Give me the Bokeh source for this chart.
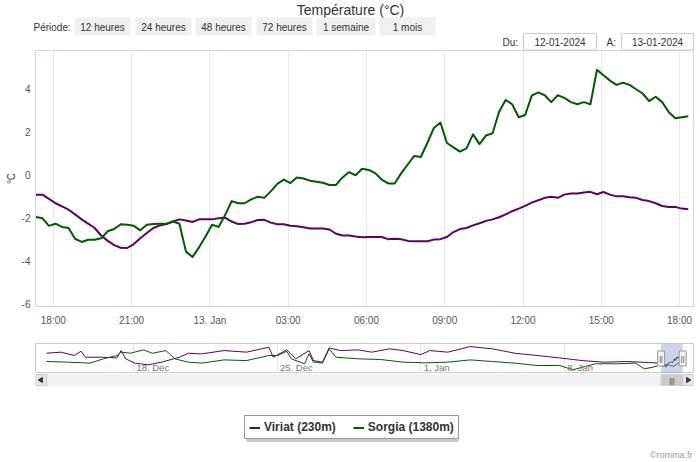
import numpy as np
import pandas as pd
from bokeh.plotting import figure
from bokeh.layouts import column
from bokeh.models import (Range1d, FixedTicker, CustomJSTickFormatter, Legend,
                          LegendItem, ColumnDataSource)
from bokeh.core.properties import value
from bokeh.embed import file_html
from bokeh.resources import INLINE

# ---------------- texts ----------------
TITLE = "Température (°C)"
PERIOD_LABEL = "Période:"
PERIOD_BUTTONS = ["12 heures", "24 heures", "48 heures", "72 heures", "1 semaine", "1 mois"]
DATE_FROM_LABEL = "Du:"
DATE_TO_LABEL = "A:"
DATE_FROM = "12-01-2024"
DATE_TO = "13-01-2024"
SERIES_NAMES = ["Viriat (230m)", "Sorgia (1380m)"]
Y_LABEL = "°C"
CREDITS = "©romma.fr"

# ---------------- main data (15 min steps) ----------------
main_start = "2024-01-12 17:20"
main_step = "15min"
viriat = [
    -0.90, -0.90, -1.10, -1.30, -1.45, -1.60, -1.82, -2.05, -2.25, -2.45,
    -2.80, -3.05, -3.25, -3.37, -3.38, -3.20, -2.93, -2.68, -2.45, -2.33,
    -2.27, -2.15, -2.05, -2.10, -2.17, -2.05, -2.05, -2.05, -2.00, -1.97,
    -2.15, -2.27, -2.25, -2.18, -2.08, -2.07, -2.20, -2.28, -2.28, -2.35,
    -2.37, -2.42, -2.47, -2.47, -2.47, -2.52, -2.72, -2.80, -2.80, -2.85,
    -2.88, -2.87, -2.87, -2.87, -2.97, -2.95, -2.97, -3.05, -3.07, -3.07,
    -3.07, -2.99, -2.97, -2.87, -2.64, -2.50, -2.45, -2.33, -2.23, -2.12,
    -2.05, -1.95, -1.82, -1.67, -1.55, -1.42, -1.27, -1.16, -1.05, -1.00,
    -1.05, -0.90, -0.85, -0.85, -0.80, -0.77, -0.88, -0.78, -0.90, -0.98,
    -0.98, -1.02, -1.05, -1.15, -1.20, -1.30, -1.43, -1.47, -1.47, -1.55,
    -1.58,
]
sorgia = [
    -1.94, -2.00, -2.35, -2.25, -2.40, -2.45, -2.95, -3.10, -3.00, -3.00,
    -2.93, -2.60, -2.50, -2.28, -2.30, -2.35, -2.56, -2.30, -2.27, -2.25,
    -2.25, -2.15, -2.25, -3.55, -3.80, -3.35, -2.85, -2.30, -2.40, -1.85,
    -1.20, -1.30, -1.30, -1.12, -1.00, -1.05, -0.75, -0.40, -0.20, -0.36,
    -0.10, -0.15, -0.25, -0.30, -0.35, -0.45, -0.45, -0.10, 0.15, 0.00,
    0.30, 0.25, 0.10, -0.20, -0.38, -0.38, 0.10, 0.50, 0.90, 0.85,
    1.50, 2.20, 2.45, 1.50, 1.30, 1.10, 1.25, 1.90, 1.45, 1.85,
    1.95, 2.95, 3.50, 3.30, 2.70, 2.80, 3.70, 3.85, 3.72, 3.40,
    3.72, 3.60, 3.40, 3.30, 3.40, 3.30, 4.90, 4.65, 4.40, 4.20,
    4.30, 4.20, 4.00, 3.80, 3.45, 3.65, 3.40, 2.94, 2.65, 2.70,
    2.74,
]
times = pd.date_range(main_start, periods=len(viriat), freq=main_step)

view_start = pd.Timestamp("2024-01-12 17:19")
view_end = pd.Timestamp("2024-01-13 18:32")
x_ticks = pd.date_range("2024-01-12 18:00", "2024-01-13 18:00", freq="3h")
y_ticks = [-6, -4, -2, 0, 2, 4]
y_min, y_max = -6.1, 5.8

# ---------------- navigator data (one month) ----------------
nav_viriat_dates = [
    "2023-12-13 18:20", "2023-12-14 11:10", "2023-12-15 02:50", "2023-12-15 10:40",
    "2023-12-15 16:00", "2023-12-16 12:50", "2023-12-17 04:40", "2023-12-17 09:40",
    "2023-12-17 15:00", "2023-12-18 01:30", "2023-12-18 17:10", "2023-12-19 08:55",
    "2023-12-20 05:50", "2023-12-20 16:10", "2023-12-21 07:50", "2023-12-22 10:10",
    "2023-12-23 12:20", "2023-12-24 14:30", "2023-12-24 19:30", "2023-12-25 11:20",
    "2023-12-25 21:55", "2023-12-26 13:30", "2023-12-26 18:35", "2023-12-27 05:10",
    "2023-12-27 13:00", "2023-12-28 02:15", "2023-12-28 23:10", "2023-12-29 14:45",
    "2023-12-30 11:40", "2023-12-31 03:25", "2024-01-01 00:20", "2024-01-01 10:40",
    "2024-01-02 07:45", "2024-01-03 09:55", "2024-01-04 11:50", "2024-01-05 14:15",
    "2024-01-06 16:10", "2024-01-07 18:20", "2024-01-08 20:45", "2024-01-09 22:40",
    "2024-01-11 01:00", "2024-01-12 03:00",
]
nav_viriat_vals = [
    6.6, 7.4, 4.9, 8.1, 3.6, 3.6, 3.1, 8.6, 2.4, -0.8,
    -2.1, -0.1, 3.6, 6.6, 6.1, 8.6, 7.4, 11.1, 3.6, 9.1,
    2.4, 8.6, 1.1, -0.1, 10.6, 8.6, 9.1, 7.4, 9.9, 8.6,
    5.6, 8.6, 7.4, 11.6, 9.9, 6.6, 4.9, 3.1, 1.1, -0.1,
    0.4, -0.4,
]
nav_sorgia_dates = [
    "2023-12-13 18:20", "2023-12-14 19:00", "2023-12-15 21:10", "2023-12-16 12:50",
    "2023-12-17 04:40", "2023-12-17 09:40", "2023-12-17 20:20", "2023-12-18 11:50",
    "2023-12-18 22:20", "2023-12-19 14:00", "2023-12-20 00:35", "2023-12-20 16:10",
    "2023-12-21 07:50", "2023-12-22 10:10", "2023-12-23 12:20", "2023-12-24 14:30",
    "2023-12-25 00:50", "2023-12-25 11:20", "2023-12-25 16:40", "2023-12-26 08:15",
    "2023-12-26 13:30", "2023-12-26 18:35", "2023-12-27 05:10", "2023-12-27 13:00",
    "2023-12-27 20:55", "2023-12-28 23:10", "2023-12-30 01:20", "2023-12-31 03:25",
    "2024-01-01 05:20", "2024-01-02 07:45", "2024-01-03 09:55", "2024-01-04 11:50",
    "2024-01-05 14:15", "2024-01-06 16:10", "2024-01-07 18:20", "2024-01-08 10:10",
    "2024-01-09 12:20", "2024-01-10 14:30", "2024-01-11 11:20", "2024-01-11 21:40",
    "2024-01-12 08:10",
]
nav_sorgia_vals = [
    0.4, -0.1, -0.8, 2.4, 4.9, 7.4, 6.6, 9.1, 6.6, 8.6,
    2.4, -0.1, -0.8, 1.6, 1.1, 4.9, 4.9, 8.1, 2.4, -1.3,
    6.1, -0.1, -0.8, 9.9, 3.6, 2.4, 1.9, -0.1, -0.6, -0.1,
    1.6, 0.4, -0.8, -2.6, -2.6, -5.8, -1.3, -1.3, -0.8, -5.1,
    -3.8,
]
nav_ticks = pd.to_datetime(["2023-12-18", "2023-12-25", "2024-01-01", "2024-01-08"])
nav_start = pd.Timestamp("2023-12-13 18:20")
nav_end = pd.Timestamp("2024-01-13 18:20")
nav_y_min, nav_y_max = -8.6, 13.9

# ---------------- styles ----------------
VIRIAT_COLOR = "#5e005e"
SORGIA_COLOR = "#005a00"
FONT = "Liberation Sans"
TEXT_COLOR = "#333333"
AXIS_COLOR = "#ccd6eb"
GRID_COLOR = "#e6e6e6"
W = 700
PLOT_LEFT, PLOT_RIGHT_PAD = 35, 7
SCROLL_BTN = 11

# ---------------- header (range selector) ----------------
hdr = figure(width=W, height=50, x_range=Range1d(0, W), y_range=Range1d(50, 0),
             toolbar_location=None, output_backend="svg", min_border=0,
             x_axis_location=None, y_axis_location=None, outline_line_color=None)
hdr.frame_align = False
hdr.xgrid.visible = False
hdr.ygrid.visible = False
hdr.text(x=[350], y=[9], text=[TITLE], text_align="center", text_baseline="middle",
         text_font=value(FONT), text_font_size="14px", text_color=TEXT_COLOR)
hdr.text(x=[33], y=[26.5], text=[PERIOD_LABEL], text_align="left", text_baseline="middle",
         text_font=value(FONT), text_font_size="10px", text_color=TEXT_COLOR)
btn_left = [74, 135, 195, 256, 316, 379]
btn_right = [130, 191, 251, 312, 375, 435]
btn_src = ColumnDataSource(dict(left=btn_left, right=btn_right, label=PERIOD_BUTTONS,
                                xc=[(a + b) / 2 for a, b in zip(btn_left, btn_right)]))
hdr.quad(left="left", right="right", top=17, bottom=35, source=btn_src,
         fill_color="#f0f0f0", line_color=None)
hdr.text(x="xc", y=26.5, text="label", source=btn_src, text_align="center",
         text_baseline="middle", text_font=value(FONT), text_font_size="10px",
         text_color=TEXT_COLOR)
box_left = [523, 621]
box_right = [596, 693]
box_src = ColumnDataSource(dict(left=box_left, right=box_right, label=[DATE_FROM, DATE_TO],
                                xc=[(a + b) / 2 for a, b in zip(box_left, box_right)]))
hdr.quad(left="left", right="right", top=33, bottom=49.5, source=box_src,
         fill_color="white", line_color="#cccccc")
hdr.text(x="xc", y=41.5, text="label", source=box_src, text_align="center",
         text_baseline="middle", text_font=value(FONT), text_font_size="10px",
         text_color=TEXT_COLOR)
hdr.text(x=[502, 606], y=[41.5, 41.5], text=[DATE_FROM_LABEL, DATE_TO_LABEL],
         text_align="left", text_baseline="middle", text_font=value(FONT),
         text_font_size="10px", text_color=TEXT_COLOR)

# ---------------- main chart ----------------
p = figure(width=W, height=293, x_axis_type="datetime",
           x_range=Range1d(view_start, view_end), y_range=Range1d(y_min, y_max),
           toolbar_location=None, output_backend="svg",
           min_border_left=PLOT_LEFT, min_border_right=PLOT_RIGHT_PAD,
           min_border_top=0, min_border_bottom=37)
p.outline_line_color = AXIS_COLOR
p.background_fill_color = "white"
p.border_fill_color = "white"
p.ygrid.visible = False
xt = FixedTicker(ticks=[t.value // 10**6 for t in x_ticks])
p.xaxis.ticker = xt
p.xgrid.ticker = xt
p.xgrid.grid_line_color = GRID_COLOR
p.xaxis.formatter = CustomJSTickFormatter(code="""
const d = new Date(tick);
const h = d.getUTCHours(), m = d.getUTCMinutes();
const mon = ["Jan","Feb","Mar","Apr","May","Jun","Jul","Aug","Sep","Oct","Nov","Dec"];
if (h === 0 && m === 0) { return d.getUTCDate() + ". " + mon[d.getUTCMonth()]; }
return String(h).padStart(2, "0") + ":" + String(m).padStart(2, "0");
""")
p.yaxis.ticker = FixedTicker(ticks=y_ticks)
p.yaxis.formatter = CustomJSTickFormatter(code="return String(tick);")
p.yaxis.axis_label = Y_LABEL
for ax in (p.xaxis[0], p.yaxis[0]):
    ax.axis_line_color = AXIS_COLOR
    ax.major_tick_line_color = None
    ax.minor_tick_line_color = None
    ax.major_tick_out = 0
    ax.major_tick_in = 0
    ax.major_label_text_font = FONT
    ax.major_label_text_font_size = "10px"
    ax.major_label_text_color = "#555555"
p.xaxis.major_label_standoff = 8
p.yaxis.major_label_standoff = 5
p.yaxis.axis_label_standoff = 2
p.yaxis.axis_label_text_font = FONT
p.yaxis.axis_label_text_font_size = "10px"
p.yaxis.axis_label_text_font_style = "normal"
p.yaxis.axis_label_text_color = TEXT_COLOR

p.line(times, viriat, line_color=VIRIAT_COLOR, line_width=2, line_join="round")
p.line(times, sorgia, line_color=SORGIA_COLOR, line_width=2, line_join="round")

# ---------------- navigator ----------------
pad = (nav_end - nav_start) * SCROLL_BTN / (W - PLOT_LEFT - PLOT_RIGHT_PAD - 2 * SCROLL_BTN)
nav_range = Range1d(nav_start - pad, nav_end + pad)
nav = figure(width=W, height=30, x_axis_type="datetime", x_range=nav_range,
             y_range=Range1d(nav_y_min, nav_y_max), toolbar_location=None,
             output_backend="svg", min_border_left=PLOT_LEFT,
             min_border_right=PLOT_RIGHT_PAD, min_border_top=0, min_border_bottom=0,
             x_axis_location=None, y_axis_location=None)
nav.outline_line_color = "#cccccc"
nav.ygrid.visible = False
nav.xgrid.ticker = FixedTicker(ticks=[t.value // 10**6 for t in nav_ticks])
nav.xgrid.grid_line_color = GRID_COLOR

nv_x = pd.to_datetime(nav_viriat_dates).append(times)
nv_y = nav_viriat_vals + viriat
ns_x = pd.to_datetime(nav_sorgia_dates).append(times)
ns_y = nav_sorgia_vals + sorgia
nav.line(nv_x, nv_y, line_color=VIRIAT_COLOR, line_width=1)
nav.line(ns_x, ns_y, line_color=SORGIA_COLOR, line_width=1)
nav.text(x=nav_ticks, y=[nav_y_min] * len(nav_ticks),
         text=[f"{d.day}. {d.strftime('%b')}" for d in nav_ticks],
         text_align="left", text_baseline="bottom", x_offset=3, y_offset=-1,
         text_font=value(FONT), text_font_size="9.5px", text_color="#777777")
nav.quad(left=[view_start], right=[view_end], bottom=[nav_y_min], top=[nav_y_max],
         fill_color="#6685c2", fill_alpha=0.35, line_color=None)
ymid = (nav_y_min + nav_y_max) / 2
nav.rect(x=[view_start, view_end], y=[ymid, ymid], width=7, height=15,
         width_units="screen", height_units="screen",
         fill_color="#f2f2f2", line_color="#999999")
nav.text(x=[view_start, view_end], y=[ymid, ymid], text=["||", "||"],
         text_align="center", text_baseline="middle", text_font=value(FONT),
         text_font_size="7px", text_color="#333333")

# ---------------- scrollbar, legend, credits ----------------
bot = figure(width=W, height=89, x_axis_type="datetime", x_range=nav_range,
             y_range=Range1d(462, 373), toolbar_location=None, output_backend="svg",
             min_border_left=PLOT_LEFT, min_border_right=PLOT_RIGHT_PAD,
             min_border_top=0, min_border_bottom=0,
             x_axis_location=None, y_axis_location=None, outline_line_color=None)
bot.extra_x_ranges = {"px": Range1d(PLOT_LEFT, W - PLOT_RIGHT_PAD)}
bot.xgrid.visible = False
bot.ygrid.visible = False
bot.quad(left=[nav_range.start], right=[nav_range.end], top=[374], bottom=[385],
         fill_color="#f2f2f2", line_color="#f2f2f2")
bot.quad(left=[nav_range.start, nav_end], right=[nav_start, nav_range.end],
         top=[374, 374], bottom=[385, 385], fill_color="#e6e6e6", line_color="#cccccc")
bot.quad(left=[view_start], right=[view_end], top=[374], bottom=[385],
         fill_color="#cccccc", line_color="#cccccc")
bot.scatter(x=[nav_range.start + pad / 2, nav_end + pad / 2], y=[379.5, 379.5],
            marker="triangle", size=5, angle=[np.pi / 2, -np.pi / 2],
            fill_color="#333333", line_color="#333333")
bot.text(x=[view_start + (view_end - view_start) / 2], y=[379.5], text=["|||"],
         text_align="center", text_baseline="middle", text_font=value(FONT),
         text_font_size="7px", text_color="#333333")

# legend shadow
bot.quad(left=[246], right=[458], top=[420], bottom=[441.5], x_range_name="px",
         fill_color="#888888", fill_alpha=0.45, line_color=None)
# legend proxies (lie outside the visible rows; only their style is used)
rv = bot.line(x=[nav_start, nav_end], y=[0, 0], line_color=VIRIAT_COLOR, line_width=2)
rs = bot.line(x=[nav_start, nav_end], y=[0, 0], line_color=SORGIA_COLOR, line_width=2)
legend = Legend(items=[LegendItem(label=SERIES_NAMES[0], renderers=[rv]),
                       LegendItem(label=SERIES_NAMES[1], renderers=[rs])],
                orientation="horizontal", location=(209, 23))
legend.label_text_font = FONT
legend.label_text_font_style = "bold"
legend.label_text_font_size = "12px"
legend.label_text_color = TEXT_COLOR
legend.glyph_width = 11
legend.glyph_height = 13
legend.label_height = 13
legend.label_standoff = 4
legend.spacing = 17
legend.padding = 4
legend.margin = 0
legend.border_line_color = "#333333"
legend.border_line_width = 1
legend.background_fill_color = "white"
legend.background_fill_alpha = 1
bot.add_layout(legend, "center")

bot.text(x=[692], y=[454], text=[CREDITS], x_range_name="px", text_align="right",
         text_baseline="middle", text_font=value(FONT), text_font_size="9px",
         text_color="#999999")

layout = column(hdr, p, nav, bot, spacing=0)
open("out.html", "w").write(file_html(layout, INLINE))
